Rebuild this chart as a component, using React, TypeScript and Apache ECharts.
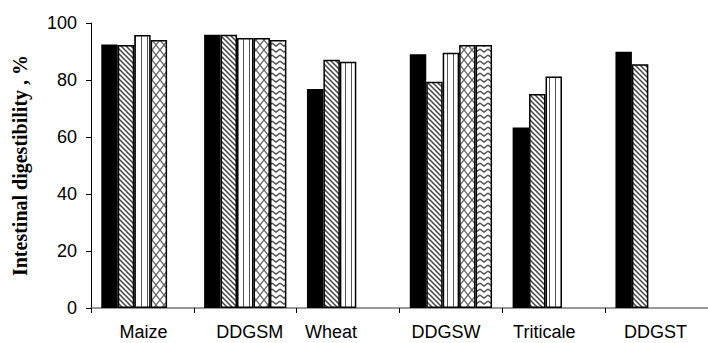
import React, { useEffect, useRef } from "react";
import * as echarts from "echarts";

const categories = ["Maize", "DDGSM", "Wheat", "DDGSW", "Triticale", "DDGST"];
const labelShift = [-2, -9, 34, 10, 19, 2];
const s1 = [92.5, 95.9, 76.8, 89.0, 63.3, 89.9];
const s2 = [92.3, 95.9, 87.1, 79.4, 75.1, 85.5];
const s3 = [95.8, 94.7, 86.4, 89.6, 81.2, null];
const s4 = [94.0, 94.7, null, 92.3, null, null];
const s5 = [null, 94.0, null, 92.3, null, null];
const yTicks = [0, 20, 40, 60, 80, 100];

function tile(w: number, h: number, draw: (c: CanvasRenderingContext2D) => void) {
  const cv = document.createElement("canvas");
  cv.width = w;
  cv.height = h;
  const ctx = cv.getContext("2d")!;
  ctx.fillStyle = "#fff";
  ctx.fillRect(0, 0, w, h);
  draw(ctx);
  return { image: cv.toDataURL(), imageWidth: w, imageHeight: h, repeat: "repeat" } as any;
}

export default function App() {
  const ref = useRef<HTMLDivElement>(null);
  useEffect(() => {
    if (!ref.current) return;
    const chart = echarts.init(ref.current, null, { renderer: "svg" });

    const hatch = tile(5, 5, (c) => {
      c.strokeStyle = "#444";
      c.lineWidth = 1.5;
      c.beginPath();
      c.moveTo(-1, -1); c.lineTo(6, 6);
      c.moveTo(-1, 4); c.lineTo(1, 6);
      c.moveTo(4, -1); c.lineTo(6, 1);
      c.stroke();
    });
    const vert = tile(6, 2, (c) => {
      c.fillStyle = "#555";
      c.fillRect(3, 0, 1, 2);
    });
    const cross = tile(8, 10, (c) => {
      c.strokeStyle = "#666";
      c.lineWidth = 1.3;
      c.beginPath();
      c.moveTo(0, 0); c.lineTo(8, 10);
      c.moveTo(8, 0); c.lineTo(0, 10);
      c.stroke();
    });
    const chevron = tile(8, 6, (c) => {
      c.strokeStyle = "#555";
      c.lineWidth = 1.5;
      c.beginPath();
      c.moveTo(0, 1); c.lineTo(4, 4); c.lineTo(8, 1);
      c.stroke();
    });

    const fills: any[] = ["#000", hatch, vert, cross, chevron];
    const data = [s1, s2, s3, s4, s5];

    chart.setOption({
      animation: false,
      grid: { left: 91, right: -7, top: 23, bottom: 35 },
      xAxis: {
        type: "category",
        data: categories.map((c, i) => ({
          value: c,
          textStyle: {
            padding: labelShift[i] >= 0 ? [0, labelShift[i], 0, 0] : [0, 0, 0, -labelShift[i]],
          },
        })),
        axisLine: { lineStyle: { color: "#777", width: 1.5 } },
        axisTick: { show: true, length: 5, lineStyle: { color: "#000" } },
        axisLabel: {
          fontFamily: "Liberation Sans",
          fontSize: 18,
          color: "#000",
          margin: 15,
        },
      },
      yAxis: {
        type: "value",
        min: 0,
        max: 100,
        interval: 20,
        name: "Intestinal digestibility , %",
        nameLocation: "middle",
        nameGap: 61,
        nameTextStyle: {
          fontFamily: "Liberation Serif",
          fontWeight: "bold",
          fontSize: 20,
          color: "#000",
        },
        axisLine: { show: true, lineStyle: { color: "#000", width: 1 } },
        axisTick: { show: true, length: 5, lineStyle: { color: "#000" } },
        splitLine: { show: false },
        axisLabel: {
          fontFamily: "Liberation Sans",
          fontSize: 18,
          color: "#000",
          margin: 14,
          formatter: (v: number) => (yTicks.includes(v) ? String(v) : ""),
        },
      },
      series: data.map((d, i) => ({
        type: "bar",
        data: d,
        barGap: "0%",
        barCategoryGap: "20%",
        itemStyle: {
          color: fills[i],
          borderColor: "#000",
          borderWidth: i === 0 ? 0 : 1.5,
        },
      })),
    });
    return () => chart.dispose();
  }, []);
  return <div ref={ref} style={{ width: 708, height: 343, position: "absolute", left: 0, top: 0 }} />;
}
